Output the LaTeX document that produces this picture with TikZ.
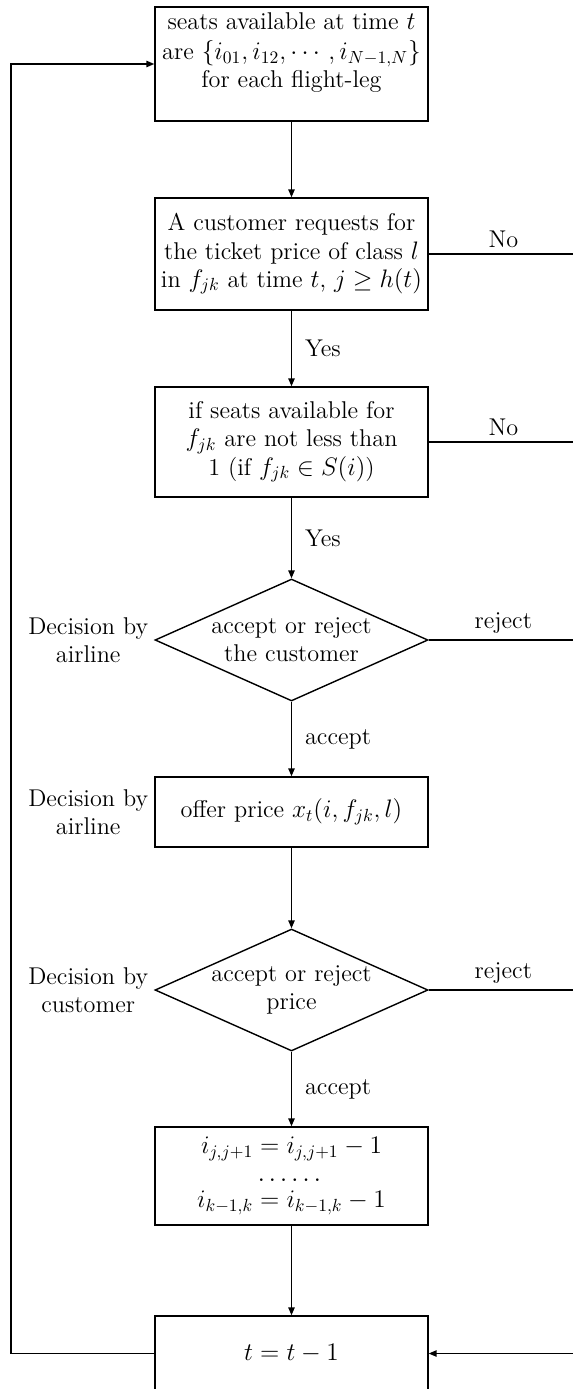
\documentclass[tikz,border=0pt]{standalone}
\usepackage{amssymb,amsmath}
\usepackage{tikz}
\usetikzlibrary{arrows,arrows.meta,shapes,positioning}

\begin{document}
\begin{tikzpicture}[x=0.02cm,y=-0.02cm,
    every node/.style={font=\fontsize{13.8}{16}\selectfont},
    box/.style={draw,thick,minimum width=5.46cm,align=center},
    dec/.style={draw,thick,diamond,aspect=2.3,minimum width=5.46cm,minimum height=2.44cm,inner sep=0pt,align=center},
    tip/.style={-{Triangle[length=4.5pt,width=3.6pt]}}]
    \useasboundingbox (0,0) rectangle (573,1389);
    \clip (0,0) rectangle (573,1389);
%draw boxes
    \node[box,minimum height=2.28cm] (b1) at (291.5,64) {};
    \node[below=0pt of b1.north,align=center] (b1t) {seats available at time $t$\\[1pt] are $\{i_{01},i_{12},\cdots,i_{N-1,N}\}$\\ for each flight-leg};
    \node[box,minimum height=2.24cm] (b2) at (291.5,254) {A customer requests for\\ the ticket price of class $l$\\ in $f_{jk}$ at time $t$, $j\geq h(t)$};
    \node[box,minimum height=2.2cm] (b3) at (291.5,442) {if seats available for\\ $f_{jk}$ are not less than\\ 1 (if $f_{jk}\in S(i)$)};
    \node[dec] (d1) at (291.5,640) {accept or reject\\ the customer};
    \node[box,minimum height=1.4cm] (b4) at (291.5,812) {offer price $x_t(i,f_{jk},l)$};
    \node[dec] (d2) at (291.5,990) {accept or reject\\ price};
    \node[box,minimum height=1.96cm] (b5) at (291.5,1176) {$i_{j,j+1}=i_{j,j+1}-1$\\[3pt] $\cdots\cdots$\\[-4pt] $i_{k-1,k}=i_{k-1,k}-1$};
    \node[box,minimum height=1.5cm] (b6) at (291.5,1353.5) {$t=t-1$};
%insert decision labels
    \node[left=0pt of d1.west,align=center] (d1l) {Decision by\\ airline};
    \node[left=0pt of b4.west,align=center] (b4l) {Decision by\\ airline};
    \node[left=0pt of d2.west,align=center] (d2l) {Decision by\\ customer};
%draw main flow
    \begin{scope}[thick,every path/.style={tip}]
       \draw (b1) -- (b2);
       \draw (b2) -- node[right=4pt] (y1) {Yes} (b3);
       \draw (b3) -- node[right=4pt] (y2) {Yes} (d1);
       \draw (d1) -- node[right=4pt] (a1) {accept} (b4);
       \draw (b4) -- (d2);
       \draw (d2) -- node[right=4pt] (a2) {accept} (b5);
       \draw (b5) -- (b6);
    \end{scope}
%draw loops
    \coordinate (lft) at (11,0);
    \coordinate (rgt) at (578,0);
    \begin{scope}[thick]
       \draw[tip] (b6.west) -- (b6.west -| lft) |- (b1.west);
       \draw (b2.east) -- node[above] (n1) {No} (b2.east -| rgt);
       \draw (b3.east) -- node[above] (n2) {No} (b3.east -| rgt);
       \draw (d1.east) -- node[above] (r1) {reject} (d1.east -| rgt);
       \draw (d2.east) -- node[above] (r2) {reject} (d2.east -| rgt);
       \draw[tip] (b2.east -| rgt) -- (b6.east -| rgt) -- (b6.east);
    \end{scope}
\end{tikzpicture}
\end{document}
